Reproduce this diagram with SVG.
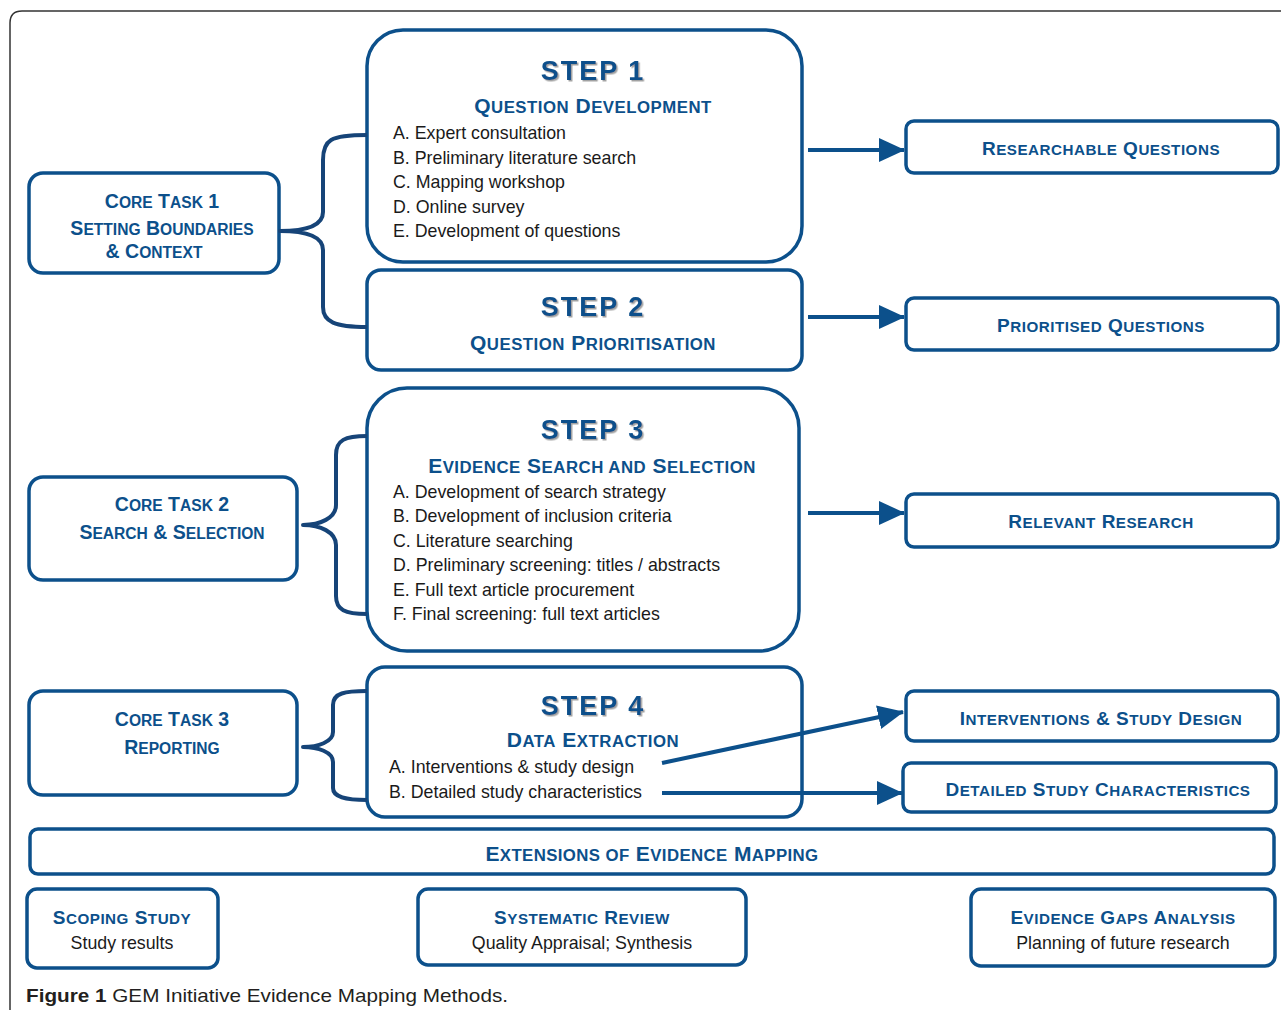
<svg xmlns="http://www.w3.org/2000/svg" width="1281" height="1010" viewBox="0 0 1281 1010">
<style>
.box{fill:#fff;stroke:#0c508b;stroke-width:3.5}
.sc{font-family:"Liberation Sans",Arial,sans-serif;font-weight:bold;fill:#0c508b;text-anchor:middle}
.s{font-size:0.8em}
.t1{font-size:19.5px}
.t2{font-size:21px;letter-spacing:0.5px}
.t3{font-size:19px;letter-spacing:0.5px}
.t4{font-size:21px;letter-spacing:0.4px}
.step{font-family:"Liberation Sans",Arial,sans-serif;font-weight:bold;fill:#0c508b;text-anchor:middle;font-size:27px;letter-spacing:2px;filter:url(#sh)}
.item{font-family:"Liberation Sans",Arial,sans-serif;fill:#1a1a1a;font-size:17.8px}
.sub{font-family:"Liberation Sans",Arial,sans-serif;fill:#1a1a1a;font-size:17.8px;text-anchor:middle}
.brace{fill:none;stroke:#164478;stroke-width:4;stroke-linejoin:round}
.conn{fill:none;stroke:#0c508b;stroke-width:4}
</style>
<defs>
<filter id="sh" x="-10%" y="-20%" width="130%" height="150%">
<feDropShadow dx="1.5" dy="1.5" stdDeviation="0.6" flood-color="#8a8a8a" flood-opacity="0.8"/>
</filter>
<marker id="ah" markerUnits="userSpaceOnUse" markerWidth="26" markerHeight="24" refX="25" refY="12" orient="auto">
<path d="M0,0 L26,12 L0,24 z" fill="#0c508b"/>
</marker>
</defs>
<rect width="1281" height="1010" fill="#fff"/>
<path d="M10,1010 L10,23 Q10,11 22,11 L1281,11" fill="none" stroke="#333" stroke-width="1.5"/>

<g id="core1">
<rect class="box" x="29" y="173" width="250" height="100" rx="14"/>
<text class="sc t1" x="162" y="208">C<tspan class="s">ORE</tspan> T<tspan class="s">ASK</tspan> 1</text>
<text class="sc t1" x="162" y="235">S<tspan class="s">ETTING</tspan> B<tspan class="s">OUNDARIES</tspan></text>
<text class="sc t1" x="154" y="258">&amp; C<tspan class="s">ONTEXT</tspan></text>
</g>

<g id="step1">
<rect class="box" x="367" y="30" width="435" height="232" rx="36"/>
<text class="step" x="593" y="80">STEP 1</text>
<text class="sc t2" x="593" y="113">Q<tspan class="s">UESTION</tspan> D<tspan class="s">EVELOPMENT</tspan></text>
<text class="item" x="393" y="139">A. Expert consultation</text>
<text class="item" x="393" y="164">B. Preliminary literature search</text>
<text class="item" x="393" y="188">C. Mapping workshop</text>
<text class="item" x="393" y="213">D. Online survey</text>
<text class="item" x="393" y="237">E. Development of questions</text>
</g>

<g id="step2">
<rect class="box" x="367" y="270" width="435" height="100" rx="14"/>
<text class="step" x="593" y="316">STEP 2</text>
<text class="sc t2" x="593" y="350">Q<tspan class="s">UESTION</tspan> P<tspan class="s">RIORITISATION</tspan></text>
</g>

<g id="researchable">
<rect class="box" x="906" y="121" width="372" height="52" rx="8"/>
<text class="sc t3" x="1101" y="155">R<tspan class="s">ESEARCHABLE</tspan> Q<tspan class="s">UESTIONS</tspan></text>
</g>

<g id="prioritised">
<rect class="box" x="906" y="298" width="372" height="52" rx="8"/>
<text class="sc t3" x="1101" y="332">P<tspan class="s">RIORITISED</tspan> Q<tspan class="s">UESTIONS</tspan></text>
</g>

<g id="core2">
<rect class="box" x="29" y="477" width="268" height="103" rx="14"/>
<text class="sc t1" x="172" y="511">C<tspan class="s">ORE</tspan> T<tspan class="s">ASK</tspan> 2</text>
<text class="sc t1" x="172" y="539">S<tspan class="s">EARCH</tspan> &amp; S<tspan class="s">ELECTION</tspan></text>
</g>

<g id="step3">
<rect class="box" x="367" y="388" width="432" height="263" rx="40"/>
<text class="step" x="593" y="439">STEP 3</text>
<text class="sc t2" x="592" y="473">E<tspan class="s">VIDENCE</tspan> S<tspan class="s">EARCH AND</tspan> S<tspan class="s">ELECTION</tspan></text>
<text class="item" x="393" y="498">A. Development of search strategy</text>
<text class="item" x="393" y="522">B. Development of inclusion criteria</text>
<text class="item" x="393" y="547">C. Literature searching</text>
<text class="item" x="393" y="571">D. Preliminary screening: titles / abstracts</text>
<text class="item" x="393" y="596">E. Full text article procurement</text>
<text class="item" x="393" y="620">F. Final screening: full text articles</text>
</g>

<g id="relevant">
<rect class="box" x="906" y="494" width="372" height="53" rx="8"/>
<text class="sc t3" x="1101" y="528">R<tspan class="s">ELEVANT</tspan> R<tspan class="s">ESEARCH</tspan></text>
</g>

<g id="core3">
<rect class="box" x="29" y="691" width="268" height="104" rx="14"/>
<text class="sc t1" x="172" y="726">C<tspan class="s">ORE</tspan> T<tspan class="s">ASK</tspan> 3</text>
<text class="sc t1" x="172" y="754">R<tspan class="s">EPORTING</tspan></text>
</g>

<g id="step4">
<rect class="box" x="367" y="667" width="435" height="150" rx="18"/>
<text class="step" x="593" y="715">STEP 4</text>
<text class="sc t2" x="593" y="747">D<tspan class="s">ATA</tspan> E<tspan class="s">XTRACTION</tspan></text>
<text class="item" x="389" y="773">A. Interventions &amp; study design</text>
<text class="item" x="389" y="798">B. Detailed study characteristics</text>
</g>

<g id="interventions">
<rect class="box" x="906" y="691" width="372" height="50" rx="8"/>
<text class="sc t3" x="1101" y="725">I<tspan class="s">NTERVENTIONS</tspan> &amp; S<tspan class="s">TUDY</tspan> D<tspan class="s">ESIGN</tspan></text>
</g>

<g id="detailed">
<rect class="box" x="903" y="763" width="373" height="49" rx="8"/>
<text class="sc t3" x="1098" y="796">D<tspan class="s">ETAILED</tspan> S<tspan class="s">TUDY</tspan> C<tspan class="s">HARACTERISTICS</tspan></text>
</g>

<g id="extensions">
<rect class="box" x="30" y="829" width="1244" height="45" rx="8"/>
<text class="sc t4" x="652" y="861">E<tspan class="s">XTENSIONS OF</tspan> E<tspan class="s">VIDENCE</tspan> M<tspan class="s">APPING</tspan></text>
</g>

<g id="scoping">
<rect class="box" x="27" y="889" width="191" height="79" rx="10"/>
<text class="sc t3" x="122" y="924">S<tspan class="s">COPING</tspan> S<tspan class="s">TUDY</tspan></text>
<text class="sub" x="122" y="949">Study results</text>
</g>

<g id="systematic">
<rect class="box" x="418" y="889" width="328" height="76" rx="10"/>
<text class="sc t3" x="582" y="924">S<tspan class="s">YSTEMATIC</tspan> R<tspan class="s">EVIEW</tspan></text>
<text class="sub" x="582" y="949">Quality Appraisal; Synthesis</text>
</g>

<g id="gaps">
<rect class="box" x="971" y="889" width="304" height="77" rx="10"/>
<text class="sc t3" x="1123" y="924">E<tspan class="s">VIDENCE</tspan> G<tspan class="s">APS</tspan> A<tspan class="s">NALYSIS</tspan></text>
<text class="sub" x="1123" y="949">Planning of future research</text>
</g>

<g id="connectors">
<path class="brace" d="M367,135 C330,135 323,140 323,160 L323,212 C323,226 305,231 280,231 C305,231 323,236 323,250 L323,307 C323,322 335,327 367,327"/>
<path class="brace" d="M367,436 C345,436 336,440 336,455 L336,505 C336,518 320,525 303,525 C320,525 336,532 336,545 L336,596 C336,610 345,614 367,614"/>
<path class="brace" d="M367,691 C345,691 333,693 333,705 L333,732 C333,742 318,747 303,747 C318,747 333,752 333,762 L333,788 C333,797 345,800 367,800"/>
<line class="conn" x1="808" y1="150" x2="904" y2="150" marker-end="url(#ah)"/>
<line class="conn" x1="808" y1="317" x2="904" y2="317" marker-end="url(#ah)"/>
<line class="conn" x1="808" y1="513" x2="904" y2="513" marker-end="url(#ah)"/>
<line class="conn" x1="662" y1="763" x2="903" y2="712" marker-end="url(#ah)"/>
<line class="conn" x1="662" y1="793" x2="902" y2="793" marker-end="url(#ah)"/>
</g>

<text x="26" y="1002" font-family="'Liberation Sans',Arial,sans-serif" font-size="19" fill="#231f20" textLength="482" lengthAdjust="spacingAndGlyphs"><tspan font-weight="bold">Figure 1</tspan> GEM Initiative Evidence Mapping Methods.</text>
</svg>
